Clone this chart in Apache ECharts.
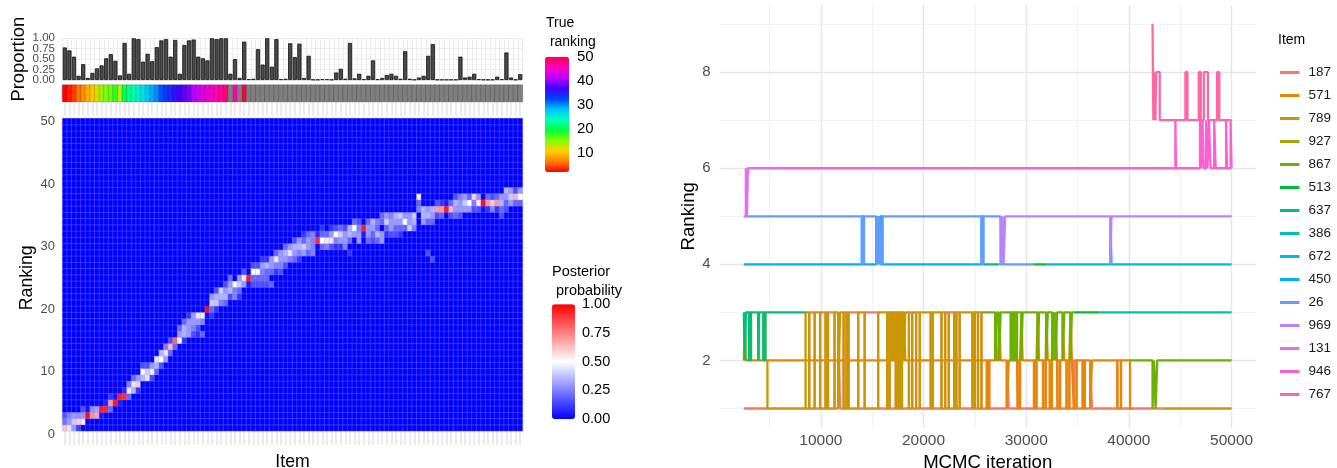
<!DOCTYPE html>
<html>
<head>
<meta charset="utf-8">
<script src="https://cdn.jsdelivr.net/npm/echarts@6.0.0/dist/echarts.min.js"></script>
<style>
  html, body { margin: 0; padding: 0; background: #fff; }
  #chart { width: 1337px; height: 468px; }
</style>
</head>
<body>
<div id="chart"></div>
<script>
// ---------- left panel data ----------
const itemIds = Array.from({length: 100}, (_, i) => String(i + 1));
const rankIds = Array.from({length: 50}, (_, i) => String(i + 1));

const proportion = [
  0.78, 0.71, 0.56, 0.10, 0.38, 0.05, 0.17, 0.28, 0.35, 0.52,
  0.62, 0.46, 0.11, 0.89, 0.15, 1.00, 0.98, 0.44, 0.63, 0.45,
  0.79, 0.95, 0.98, 0.56, 0.96, 0.15, 0.84, 0.95, 0.97, 0.56,
  0.52, 0.47, 1.00, 0.98, 1.00, 1.00, 0.15, 0.50, 0.05, 0.92,
  0.02, 0.03, 0.74, 0.37, 1.00, 0.32, 0.98, 0.02, 0.03, 0.88,
  0.55, 0.87, 0.05, 0.58, 0.01, 0.01, 0.02, 0.02, 0.01, 0.18,
  0.27, 0.03, 0.89, 0.04, 0.15, 0.02, 0.10, 0.47, 0.02, 0.05,
  0.12, 0.15, 0.10, 0.03, 0.69, 0.03, 0.01, 0.06, 0.10, 0.58,
  0.86, 0.01, 0.01, 0.01, 0.01, 0.01, 0.56, 0.06, 0.08, 0.15,
  0.02, 0.01, 0.01, 0.01, 0.08, 0.02, 0.66, 0.06, 0.01, 0.14
];

// true ranking of each item (null = unknown, drawn grey)
const trueRanking = [
  2, 3, 4, 6, 7, 9, 10, 12, 14, 15,
  16, 18, 13, 20, 22, 23, 25, 26, 28, 29,
  30, 32, 33, 34, 36, 37, 38, 39, 41, 42,
  43, 44, 45, 46, 47, 48, null, 46, null, 50
].concat(new Array(60).fill(null));

// posterior probability per item: [ranking, probability], other rankings 0
const posterior = [
  [[1,.62],[2,.22],[3,.16]],
  [[1,.45],[2,.30],[3,.25]],
  [[1,.30],[2,.40],[3,.30]],
  [[1,.12],[2,.60],[3,.28]],
  [[2,.55],[3,.30],[4,.15]],
  [[3,.97],[4,.03]],
  [[3,.72],[4,.28]],
  [[3,.68],[4,.32]],
  [[4,.95],[3,.05]],
  [[4,.93],[5,.07]],
  [[5,.70],[4,.20],[6,.10]],
  [[5,.96],[6,.04]],
  [[6,.95],[5,.05]],
  [[6,.92],[7,.08]],
  [[7,.55],[6,.20],[8,.25]],
  [[8,.45],[7,.35],[9,.20]],
  [[8,.60],[9,.30],[7,.10]],
  [[10,.50],[9,.35],[11,.15]],
  [[10,.40],[9,.45],[11,.15]],
  [[10,.55],[11,.30],[9,.15]],
  [[11,.35],[12,.45],[10,.20]],
  [[12,.50],[13,.35],[11,.15]],
  [[13,.45],[12,.30],[14,.25]],
  [[14,.65],[13,.20],[15,.15]],
  [[15,.80],[14,.20]],
  [[15,.50],[16,.30],[17,.20]],
  [[16,.35],[17,.35],[18,.20],[15,.10]],
  [[16,.30],[17,.30],[18,.30],[19,.10]],
  [[17,.25],[18,.30],[19,.30],[16,.15]],
  [[18,.30],[19,.45],[17,.15],[16,.10]],
  [[19,.55],[18,.25],[16,.20]],
  [[20,.98],[19,.02]],
  [[21,.40],[20,.20],[22,.30],[19,.10]],
  [[21,.40],[22,.35],[23,.15],[20,.10]],
  [[22,.35],[23,.40],[21,.25]],
  [[23,.30],[22,.35],[21,.20],[24,.15]],
  [[23,.35],[24,.30],[22,.15],[25,.20]],
  [[24,.50],[23,.25],[22,.25]],
  [[24,.40],[25,.30],[23,.20],[22,.10]],
  [[25,.55],[24,.30],[26,.15]],
  [[25,.95],[24,.05]],
  [[26,.50],[25,.20],[24,.15],[27,.15]],
  [[26,.50],[25,.20],[24,.15],[27,.15]],
  [[27,.30],[26,.25],[25,.20],[24,.15],[28,.10]],
  [[27,.35],[26,.20],[25,.20],[24,.15],[28,.10]],
  [[27,.30],[28,.30],[26,.20],[24,.20]],
  [[28,.45],[27,.25],[29,.20],[26,.10]],
  [[28,.30],[29,.30],[27,.25],[26,.15]],
  [[29,.35],[28,.30],[30,.20],[27,.15]],
  [[29,.45],[30,.30],[28,.25]],
  [[29,.30],[30,.35],[28,.20],[31,.15]],
  [[30,.35],[31,.30],[29,.25],[28,.10]],
  [[30,.40],[31,.20],[29,.30],[32,.10]],
  [[31,.30],[30,.30],[32,.20],[29,.20]],
  [[30,.25],[31,.25],[29,.25],[32,.25]],
  [[31,.92],[32,.08]],
  [[31,.50],[32,.20],[30,.20],[33,.10]],
  [[31,.55],[30,.25],[32,.20]],
  [[31,.45],[32,.30],[30,.15],[33,.10]],
  [[32,.50],[31,.25],[33,.15],[30,.10]],
  [[32,.40],[31,.30],[33,.20],[30,.10]],
  [[31,.30],[32,.30],[30,.25],[33,.15]],
  [[32,.35],[33,.35],[31,.20],[29,.10]],
  [[33,.50],[32,.30],[34,.20]],
  [[32,.30],[31,.30],[33,.25],[34,.15]],
  [[33,.95],[32,.05]],
  [[32,.30],[33,.30],[34,.20],[31,.20]],
  [[34,.35],[33,.30],[32,.20],[31,.15]],
  [[32,.35],[34,.25],[31,.20],[33,.20]],
  [[31,.30],[32,.30],[34,.20],[35,.20]],
  [[34,.40],[35,.30],[33,.20],[32,.10]],
  [[34,.30],[33,.30],[35,.25],[32,.15]],
  [[35,.35],[34,.30],[33,.20],[32,.15]],
  [[35,.40],[34,.30],[33,.20],[32,.10]],
  [[34,.50],[35,.30],[33,.20]],
  [[33,.40],[35,.30],[34,.30]],
  [[35,.40],[34,.35],[33,.25]],
  [[38,.55],[37,.20],[36,.25]],
  [[36,.35],[35,.35],[34,.30]],
  [[35,.35],[36,.30],[34,.20],[29,.15]],
  [[36,.35],[35,.30],[34,.20],[28,.15]],
  [[36,.70],[37,.15],[35,.15]],
  [[36,.70],[35,.20],[37,.10]],
  [[36,.95],[37,.05]],
  [[36,.65],[37,.20],[35,.15]],
  [[37,.35],[36,.30],[35,.20],[38,.15]],
  [[37,.30],[36,.30],[38,.25],[35,.15]],
  [[37,.40],[38,.30],[36,.30]],
  [[37,.50],[36,.30],[38,.20]],
  [[38,.60],[37,.25],[36,.15]],
  [[37,.55],[38,.30],[36,.15]],
  [[37,.97],[36,.03]],
  [[37,.70],[38,.20],[36,.10]],
  [[37,.60],[36,.25],[38,.15]],
  [[37,.70],[38,.20],[36,.10]],
  [[37,.35],[38,.30],[36,.20],[35,.15]],
  [[39,.35],[38,.30],[37,.20],[36,.15]],
  [[38,.40],[39,.30],[37,.30]],
  [[38,.65],[37,.20],[39,.15]],
  [[39,.30],[38,.50],[37,.20]]
];

// ---------- right panel data: [iteration, ranking] change points ----------
const traceItems = ['187','571','789','927','867','513','637','386','672','450','26','969','131','946','767'];
const t187 = [[2500,1],[4800,1],[4801,null],[8517,1],[8870,3],[9400,1],[9930,3],[10460,1],[10700,3],[11340,1],[11690,3],[11870,1],[12220,3],[12500,1],[12700,3],[13640,1],[14270,3],[15580,1],[16460,3],[16700,1],[17300,3],[17500,1],[17700,3],[17900,1],[18580,3],[18900,1],[19280,3],[19640,1],[20700,3],[20900,1],[21750,3],[22110,1],[22460,3],[22990,1],[23200,3],[23520,1],[24760,3],[25000,1],[25300,3],[25640,1],[26170,2],[26400,1],[28110,2],[28300,1],[29170,2],[29400,1],[30760,2],[31000,1],[31640,2],[31900,1],[32300,2],[32500,1],[33050,2],[33300,1],[33930,2],[34200,1],[34640,2],[34900,1],[35500,2],[35700,1],[36230,2],[36400,1],[38880,2],[39230,1],[43290,1],[43291,null]];
const t571 = [[4800,2],[16900,3],[17100,2],[18100,3],[18225,2],[26170,1],[26400,2],[26980,3],[27150,2],[27350,3],[27510,2],[28110,1],[28300,2],[28500,3],[28700,2],[28900,3],[29100,2],[29170,1],[29400,2],[29520,3],[29650,2],[30760,1],[31000,2],[31110,3],[31250,2],[31640,1],[31900,2],[31950,3],[32100,2],[32300,1],[32500,2],[32550,3],[32700,2],[32850,3],[33000,2],[33050,1],[33300,2],[33550,3],[33700,2],[33930,1],[34200,2],[34300,3],[34450,2],[34640,1],[34900,2],[35500,1],[35700,2],[36230,1],[36400,2],[38880,1],[39230,2],[40110,1],[40350,1],[40351,null]];
const t789 = [[2500,2],[2600,3],[2700,2],[3000,3],[3200,2],[3900,3],[4000,2],[4400,3],[4600,2],[4800,1],[8517,3],[8870,1],[9400,3],[9930,1],[10460,3],[10700,1],[11340,3],[11690,1],[11870,3],[12220,1],[12500,3],[12700,1],[13640,3],[14270,1],[15580,3],[16460,1],[16700,3],[16900,2],[17100,3],[17300,1],[17500,3],[17700,1],[17900,3],[18100,2],[18225,3],[18580,1],[18900,3],[19280,1],[19640,3],[20700,1],[20900,3],[21750,1],[22110,3],[22460,1],[22990,3],[23200,1],[23520,3],[24760,1],[25000,3],[25300,1],[25640,3],[25641,null],[43290,1],[50000,1]];
const t927 = [];
const t867 = [[25640,3],[26980,2],[27150,3],[27350,2],[27510,3],[28500,2],[28700,3],[28900,2],[29100,3],[29520,2],[29650,3],[31110,2],[31250,3],[31950,2],[32100,3],[32550,2],[32700,3],[32850,2],[33000,3],[33550,2],[33700,3],[34300,2],[34450,3],[34640,3],[34641,null],[40110,2],[42300,1],[42450,2],[42600,1],[42760,2],[50000,2]];
const t513 = [[30760,4],[31920,4],[31921,null],[34640,3],[37100,3],[37101,null]];
const t637 = [[2500,3],[2600,2],[2700,3],[3000,2],[3200,3],[3900,2],[4000,3],[4400,2],[4600,3],[8517,3],[8518,null],[25850,4],[27400,4],[27401,null]];
const t386 = [[37100,3],[50000,3]];
const t672 = [[31920,4],[38200,5],[38300,4],[50000,4]];
const t450 = [[2500,4],[14000,5],[14200,4],[15400,5],[15500,4],[15600,5],[15700,4],[15800,5],[16000,4],[25650,5],[25850,5],[25851,null]];
const t26 = [[2500,5],[14000,4],[14200,5],[15400,4],[15500,5],[15600,4],[15700,5],[15800,4],[16000,5],[25650,4],[25850,5],[27500,4],[30760,4],[30761,null]];
const t969 = [[27500,5],[27600,4],[27700,5],[27800,4],[27950,5],[38200,4],[38300,5],[50000,5]];
const t131 = [[2500,5],[2700,6],[2800,5],[2900,6],[6100,6],[6101,null]];
const t946 = [[6100,6],[44520,7],[44600,6],[46920,7],[47050,6],[47170,7],[47300,6],[47520,7],[47650,6],[47800,7],[47950,6],[48300,7],[48450,6],[49460,7],[49550,6],[49900,7],[50000,6]];
const t767 = [[42300,9],[42380,7],[42450,8],[42580,7],[42650,8],[43000,7],[45500,8],[45700,7],[46800,8],[47000,7],[47300,8],[47700,7],[48580,8],[48800,7],[50000,7]];
const traceData = [t187, t571, t789, t927, t867, t513, t637, t386, t672, t450, t26, t969, t131, t946, t767];

// ---------- styles ----------
const FONT = 'Liberation Sans, Arial, sans-serif';
const hueColors = ['#F8766D','#E58700','#C99800','#A3A500','#6BB100','#00BA38','#00BF7D','#00C0AF','#00BCD8','#00B0F6','#619CFF','#B983FF','#E76BF3','#FD61D1','#FF67A4'];
const rainbow = ['#FF0000','#FF8000','#FFD000','#80FF00','#00FF40','#00FFC0','#00C0FF','#0040FF','#4000FF','#C000FF','#FF00C0','#FF0040'];

// build heatmap tables
const heatData = [];
posterior.forEach((cells, i) => {
  const col = new Array(50).fill(0);
  cells.forEach(([r, p]) => { col[r - 1] = p; });
  col.forEach((p, r) => heatData.push([i, r, p]));
});
const stripData = [], stripNA = [];
trueRanking.forEach((v, i) => {
  if (v == null) stripNA.push([i, 0, 0]);
  else stripData.push([i, 0, v]);
});

const chart = echarts.init(document.getElementById('chart'));

const gridBase = {containLabel: false, outerBoundsMode: 'none'};
const grids = [
  {left: 62.5, top: 38.3, width: 460, height: 41.7},     // 0 bars
  {left: 62.5, top: 85, width: 460, height: 16.7},       // 1 strip
  {left: 62.5, top: 118.4, width: 460, height: 312.5},   // 2 heatmap
  {left: 62.5, top: 121.5, width: 460, height: 312.5},   // 3 ranking labels
  {left: 545, top: 56.7, width: 24, height: 120},        // 4 true ranking ticks
  {left: 552, top: 304.3, width: 23, height: 114.7},     // 5 posterior ticks
  {left: 719.4, top: 4.9, width: 536.6, height: 422.8},  // 6 trace plot
  {left: 62.5, top: 27.875, width: 460, height: 62.55}   // 7 proportion .25/.75 labels
].map(g => Object.assign({}, gridBase, g));

const lightTick = {show: true, alignWithLabel: true, interval: 0, length: 14, lineStyle: {color: '#e6e6e6', width: 1.6}};
const propLabel = {color: '#4d4d4d', fontSize: 11.5, margin: 7.5, fontFamily: FONT, showMinLabel: true, showMaxLabel: true};

const xAxes = [
  {gridIndex: 0, type: 'category', data: itemIds, axisLine: {show: false}, axisTick: {show: false}, axisLabel: {show: false},
   splitLine: {show: true, interval: 0, lineStyle: {color: '#ebebeb', width: 1}}},
  {gridIndex: 1, type: 'category', data: itemIds, axisLine: {show: false}, axisTick: lightTick, axisLabel: {show: false}},
  {gridIndex: 2, type: 'category', data: itemIds, axisLine: {show: false}, axisTick: lightTick, axisLabel: {show: false},
   name: 'Item', nameLocation: 'middle', nameGap: 22, nameTextStyle: {fontSize: 17.7, color: '#000', fontFamily: FONT}},
  {gridIndex: 3, type: 'value', show: false},
  {gridIndex: 4, type: 'value', show: false},
  {gridIndex: 5, type: 'value', show: false},
  {gridIndex: 6, type: 'value', min: 125, max: 52375,
   axisLine: {show: false}, axisTick: {show: false}, splitLine: {show: false},
   axisLabel: {customValues: [10000, 20000, 30000, 40000, 50000], formatter: v => String(v),
               color: '#4d4d4d', fontSize: 15.5, margin: 5, fontFamily: FONT},
   name: 'MCMC iteration', nameLocation: 'middle', nameGap: 23, nameTextStyle: {fontSize: 18.6, color: '#000', fontFamily: FONT}},
  {gridIndex: 7, type: 'value', show: false}
];

const legendTick = {show: true, inside: true, length: 5, lineStyle: {color: '#fff', width: 1.2}};
const yAxes = [
  {gridIndex: 0, type: 'value', min: 0, max: 1, interval: 0.25,
   axisLine: {show: false}, axisTick: {show: false},
   axisLabel: Object.assign({formatter: v => (Math.abs(v * 2 - Math.round(v * 2)) < 1e-9 ? v.toFixed(2) : '')}, propLabel),
   splitLine: {lineStyle: {color: '#ebebeb', width: 1.2}},
   minorTick: {show: false, splitNumber: 2}, minorSplitLine: {show: true, lineStyle: {color: '#f2f2f2', width: 0.8}},
   name: 'Proportion', nameLocation: 'middle', nameGap: 34.3, nameTextStyle: {fontSize: 18.4, color: '#000', fontFamily: FONT}},
  {gridIndex: 1, type: 'category', data: ['true'], show: false},
  {gridIndex: 2, type: 'category', data: rankIds, show: false},
  {gridIndex: 3, type: 'value', min: 0, max: 50, interval: 10,
   axisLine: {show: false}, axisTick: {show: false}, splitLine: {show: false},
   axisLabel: {color: '#4d4d4d', fontSize: 13, margin: 7.5, fontFamily: FONT},
   name: 'Ranking', nameLocation: 'middle', nameGap: 26.6, nameTextStyle: {fontSize: 17.7, color: '#000', fontFamily: FONT}},
  {gridIndex: 4, type: 'value', min: 0, max: 50, interval: 10, position: 'right',
   axisLine: {show: false}, axisTick: legendTick, splitLine: {show: false},
   axisLabel: {formatter: v => (v === 0 ? '' : String(v)), color: '#000', fontSize: 15, margin: 8, fontFamily: FONT}},
  {gridIndex: 4, type: 'value', min: 0, max: 50, interval: 10, position: 'left',
   axisLine: {show: false}, axisTick: legendTick, splitLine: {show: false}, axisLabel: {show: false}},
  {gridIndex: 5, type: 'value', min: 0, max: 1, interval: 0.25, position: 'right',
   axisLine: {show: false}, axisTick: legendTick, splitLine: {show: false},
   axisLabel: {formatter: v => v.toFixed(2), color: '#000', fontSize: 14.5, margin: 7, fontFamily: FONT}},
  {gridIndex: 5, type: 'value', min: 0, max: 1, interval: 0.25, position: 'left',
   axisLine: {show: false}, axisTick: legendTick, splitLine: {show: false}, axisLabel: {show: false}},
  {gridIndex: 6, type: 'value', min: 0.6, max: 9.4,
   axisLine: {show: false}, axisTick: {show: false}, splitLine: {show: false},
   axisLabel: {customValues: [2, 4, 6, 8], color: '#4d4d4d', fontSize: 15, margin: 8.7, fontFamily: FONT},
   name: 'Ranking', nameLocation: 'middle', nameGap: 20, nameTextStyle: {fontSize: 18.6, color: '#000', fontFamily: FONT}},
  {gridIndex: 7, type: 'value', min: -0.25, max: 1.25, interval: 0.5,
   axisLine: {show: false}, axisTick: {show: false}, splitLine: {show: false},
   axisLabel: Object.assign({formatter: v => (v > 0 && v < 1 ? v.toFixed(2) : '')}, propLabel)}
];

// panel grid lines of the trace plot
const gridLines = [];
[5000, 15000, 25000, 35000, 45000].forEach(v => gridLines.push({xAxis: v, lineStyle: {color: '#efefef', width: 0.8}}));
[10000, 20000, 30000, 40000, 50000].forEach(v => gridLines.push({xAxis: v, lineStyle: {color: '#e6e6e6', width: 1.4}}));
[1, 3, 5, 7, 9].forEach(v => gridLines.push({yAxis: v, lineStyle: {color: '#efefef', width: 0.8}}));
[2, 4, 6, 8].forEach(v => gridLines.push({yAxis: v, lineStyle: {color: '#e6e6e6', width: 1.4}}));

const series = [
  {type: 'bar', xAxisIndex: 0, yAxisIndex: 0, data: proportion, barWidth: '90%',
   itemStyle: {color: '#4a4a4a', borderColor: '#111', borderWidth: 0.8}, silent: true},
  {type: 'heatmap', xAxisIndex: 1, yAxisIndex: 1, data: stripData,
   itemStyle: {borderColor: 'rgba(0,0,0,0.35)', borderWidth: 0.5}, silent: true},
  {type: 'heatmap', xAxisIndex: 1, yAxisIndex: 1, data: stripNA,
   itemStyle: {color: '#7f7f7f', borderColor: 'rgba(0,0,0,0.35)', borderWidth: 0.5}, silent: true},
  {type: 'heatmap', xAxisIndex: 2, yAxisIndex: 2, data: heatData,
   itemStyle: {borderColor: 'rgba(150,150,255,0.55)', borderWidth: 0.5}, silent: true},
  {type: 'line', xAxisIndex: 6, yAxisIndex: 8, data: [], silent: true,
   markLine: {silent: true, symbol: 'none', z: 1, animation: false, label: {show: false},
              lineStyle: {type: 'solid'}, emphasis: {disabled: true}, data: gridLines}}
];
traceItems.forEach((name, k) => {
  series.push({
    name: name, type: 'line', xAxisIndex: 6, yAxisIndex: 8, data: traceData[k],
    step: 'end', symbol: 'none', showSymbol: false, connectNulls: false, z: 3, silent: true,
    lineStyle: {color: hueColors[k], width: 2.3}, itemStyle: {color: hueColors[k]}
  });
});

const option = {
  animation: false,
  textStyle: {fontFamily: FONT},
  title: [
    {text: 'True\n ranking', left: 546, top: 13.8, padding: 0,
     textStyle: {fontSize: 14, fontWeight: 'normal', color: '#000', lineHeight: 19, fontFamily: FONT}},
    {text: 'Posterior\n probability', left: 552, top: 262.2, padding: 0,
     textStyle: {fontSize: 14.5, fontWeight: 'normal', color: '#000', lineHeight: 19, fontFamily: FONT}},
    {text: 'Item', left: 1278, top: 33, padding: 0,
     textStyle: {fontSize: 14, fontWeight: 'normal', color: '#000', fontFamily: FONT}}
  ],
  grid: grids,
  xAxis: xAxes,
  yAxis: yAxes,
  visualMap: [
    {type: 'continuous', seriesIndex: 1, min: 2, max: 50, inRange: {color: rainbow},
     left: 545, top: 56.7, itemWidth: 24, itemHeight: 115.2, padding: 0, calculable: false, hoverLink: false},
    {type: 'continuous', seriesIndex: 3, min: 0, max: 1, inRange: {color: ['#0000FF', '#FFFFFF', '#FF0000']},
     left: 552, top: 304.3, itemWidth: 23, itemHeight: 114.7, padding: 0, calculable: false, hoverLink: false}
  ],
  legend: {
    data: traceItems.map(n => ({name: n, icon: 'rect'})), orient: 'vertical', left: 1280, top: 64.5, padding: 0,
    itemGap: 7, itemWidth: 19.5, itemHeight: 3, selectedMode: false,
    textStyle: {fontSize: 13.5, color: '#1a1a1a', lineHeight: 16, padding: [0, 0, 0, 4], fontFamily: FONT}
  },
  series: series
};
chart.setOption(option);
</script>
</body>
</html>
